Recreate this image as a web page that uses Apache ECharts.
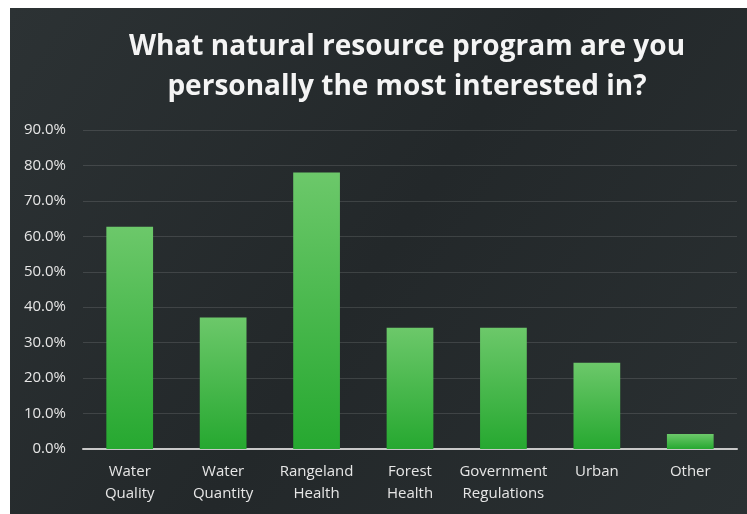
<!DOCTYPE html>
<html>
<head>
<meta charset="utf-8">
<script src="https://cdn.jsdelivr.net/npm/echarts@6/dist/echarts.min.js"></script>
<style>
  html, body { margin: 0; padding: 0; background: #fff; }
  #main { width: 747px; height: 514px; }
</style>
</head>
<body>
<div id="main"></div>
<script>
/* data */
var categories = ['Water\nQuality', 'Water\nQuantity', 'Rangeland\nHealth', 'Forest\nHealth', 'Government\nRegulations', 'Urban', 'Other'];
var shares = [62.7, 37.1, 78.0, 34.2, 34.2, 24.3, 4.2];
var titleText = 'What natural resource program are you\npersonally the most interested in?';

var chart = echarts.init(document.getElementById('main'));
var option = {
	backgroundColor: '#ffffff',
	graphic: [{
		type: 'rect',
		left: 10, top: 8,
		shape: { width: 737, height: 506 },
		z: -10,
		style: {
			fill: new echarts.graphic.LinearGradient(0, 0, 1, 1, [
				{ offset: 0, color: '#2c3234' },
				{ offset: 0.5, color: '#23282a' },
				{ offset: 1, color: '#2a3032' }
			])
		}
	}],
	title: {
		text: titleText,
		left: 402, top: 22, textAlign: 'center',
		textStyle: {
			color: '#f4f4f4', fontFamily: 'Open Sans', fontWeight: 'bold',
			fontSize: 28, lineHeight: 40
		}
	},
	grid: { left: 83, right: 10, top: 130, bottom: 65 },
	xAxis: {
		type: 'category',
		data: categories,
		axisLine: { lineStyle: { color: '#c8c8c8', width: 2 } },
		axisTick: { show: false },
		axisLabel: {
			color: '#e6e6e6', fontFamily: 'Open Sans', fontSize: 15,
			lineHeight: 22, margin: 12, interval: 0
		}
	},
	yAxis: {
		type: 'value',
		min: 0, max: 90, interval: 10,
		axisLine: { show: false },
		axisTick: { show: false },
		splitLine: { lineStyle: { color: 'rgba(255,255,255,0.12)', width: 1 } },
		axisLabel: {
			color: '#e6e6e6', fontFamily: 'Open Sans', fontSize: 15, margin: 17,
			formatter: function (v) { return v.toFixed(1) + '%'; }
		}
	},
	series: [{
		type: 'bar',
		data: shares,
		barWidth: '50%',
		itemStyle: {
			color: new echarts.graphic.LinearGradient(0, 0, 0, 1, [
				{ offset: 0, color: '#6cc86a' },
				{ offset: 1, color: '#26a830' }
			])
		}
	}]
};
chart.setOption(option);
</script>
</body>
</html>
